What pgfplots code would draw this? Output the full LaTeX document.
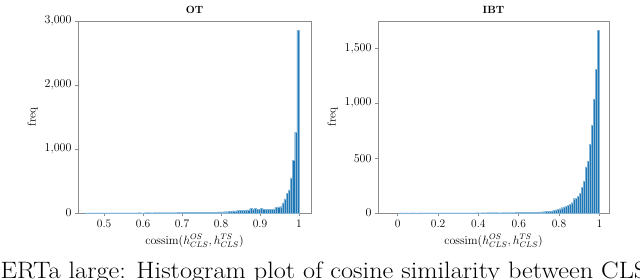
\documentclass[border=0pt]{standalone}
\usepackage{pgfplots}
\pgfplotsset{compat=1.18}
\definecolor{barblue}{HTML}{1F77B4}
\definecolor{framegray}{HTML}{8C8C8C}
\pgfplotsset{
  histstyle/.style={
    scale only axis,
    width=233pt, height=192pt,
    axis line style={framegray, line width=0.8pt},
    tick style={framegray, line width=0.6pt},
    tick align=outside,
    xtick pos=left, ytick pos=left,
    major tick length=3pt,
    ymin=0,
    tick label style={font=\fontsize{11.5}{13}\selectfont},
    label style={font=\fontsize{11.5}{13}\selectfont},
    title style={font=\bfseries\fontsize{10.5}{12}\selectfont, yshift=-2pt},
    xlabel={$\mathrm{cossim}(h^{OS}_{CLS}, h^{TS}_{CLS})$},
    ylabel={freq},
    scaled y ticks=false,
  },
  histbars/.style={ybar interval, fill=barblue, draw=barblue!55!white, line width=0.15pt},
}
\begin{document}
\begin{tikzpicture}[x=1pt,y=1pt]
\path[use as bounding box] (0,0) rectangle (640,279);
\clip (0,0) rectangle (640,279);
\begin{axis}[histstyle, at={(78pt,66pt)}, anchor=south west,
  title={OT},
  xmin=0.433, xmax=1.031, ymax=3000,
  xtick={0.5,0.6,0.7,0.8,0.9,1},
  xticklabels={0.5,0.6,0.7,0.8,0.9,1},
  ytick={0,1000,2000,3000}]
\addplot[histbars] table[row sep=\\] {
x y\\
0.45 1\\ 0.4555 0\\ 0.461 1\\ 0.4665 1\\ 0.472 2\\ 0.4775 1\\ 0.483 1\\ 0.4885 2\\ 0.494 1\\ 0.4995 2\\
0.505 2\\ 0.5105 1\\ 0.516 2\\ 0.5215 2\\ 0.527 2\\ 0.5325 3\\ 0.538 2\\ 0.5435 2\\ 0.549 3\\ 0.5545 2\\
0.56 3\\ 0.5655 3\\ 0.571 2\\ 0.5765 3\\ 0.582 3\\ 0.5875 4\\ 0.593 3\\ 0.5985 3\\ 0.604 4\\ 0.6095 4\\
0.615 4\\ 0.6205 3\\ 0.626 4\\ 0.6315 5\\ 0.637 4\\ 0.6425 5\\ 0.648 5\\ 0.6535 4\\ 0.659 5\\ 0.6645 6\\
0.67 6\\ 0.6755 5\\ 0.681 6\\ 0.6865 7\\ 0.692 6\\ 0.6975 7\\ 0.703 8\\ 0.7085 7\\ 0.714 8\\ 0.7195 9\\
0.725 9\\ 0.7305 8\\ 0.736 10\\ 0.7415 11\\ 0.747 10\\ 0.7525 12\\ 0.758 11\\ 0.7635 13\\ 0.769 12\\ 0.7745 14\\
0.78 14\\ 0.7855 15\\ 0.791 16\\ 0.7965 17\\ 0.802 18\\ 0.8075 20\\ 0.813 22\\ 0.8185 25\\ 0.824 30\\ 0.8295 32\\
0.835 35\\ 0.8405 38\\ 0.846 40\\ 0.8515 45\\ 0.857 45\\ 0.8625 50\\ 0.868 50\\ 0.8735 70\\ 0.879 60\\ 0.8845 70\\
0.89 55\\ 0.8955 60\\ 0.901 75\\ 0.9065 65\\ 0.912 55\\ 0.9175 60\\ 0.923 55\\ 0.9285 60\\ 0.934 65\\ 0.9395 90\\
0.945 95\\ 0.9505 100\\ 0.956 160\\ 0.9615 220\\ 0.967 310\\ 0.9725 360\\ 0.978 550\\ 0.9835 820\\ 0.989 1265\\ 0.9945 2855\\
1.0 0\\
};
\end{axis}
\begin{axis}[histstyle, at={(378pt,66pt)}, anchor=south west,
  width=231pt,
  title={IBT},
  xmin=-0.098, xmax=1.048, ymax=1750,
  xtick={0,0.2,0.4,0.6,0.8,1},
  xticklabels={0,0.2,0.4,0.6,0.8,1},
  ytick={0,500,1000,1500}]
\addplot[histbars] table[row sep=\\] {
x y\\
0.00 0\\ 0.01 1\\ 0.02 0\\ 0.03 1\\ 0.04 1\\ 0.05 0\\ 0.06 1\\ 0.07 1\\ 0.08 1\\ 0.09 0\\
0.10 1\\ 0.11 1\\ 0.12 1\\ 0.13 1\\ 0.14 1\\ 0.15 1\\ 0.16 1\\ 0.17 1\\ 0.18 1\\ 0.19 1\\
0.20 1\\ 0.21 1\\ 0.22 2\\ 0.23 1\\ 0.24 1\\ 0.25 2\\ 0.26 1\\ 0.27 2\\ 0.28 1\\ 0.29 2\\
0.30 1\\ 0.31 2\\ 0.32 2\\ 0.33 1\\ 0.34 2\\ 0.35 2\\ 0.36 2\\ 0.37 2\\ 0.38 2\\ 0.39 3\\
0.40 2\\ 0.41 2\\ 0.42 3\\ 0.43 2\\ 0.44 3\\ 0.45 3\\ 0.46 3\\ 0.47 3\\ 0.48 3\\ 0.49 3\\
0.50 2\\ 0.51 3\\ 0.52 3\\ 0.53 3\\ 0.54 3\\ 0.55 3\\ 0.56 3\\ 0.57 3\\ 0.58 4\\ 0.59 4\\
0.60 4\\ 0.61 4\\ 0.62 5\\ 0.63 5\\ 0.64 6\\ 0.65 6\\ 0.66 7\\ 0.67 8\\ 0.68 8\\ 0.69 9\\
0.70 10\\ 0.71 11\\ 0.72 12\\ 0.73 14\\ 0.74 15\\ 0.75 18\\ 0.76 20\\ 0.77 25\\ 0.78 28\\ 0.79 32\\
0.80 40\\ 0.81 48\\ 0.82 55\\ 0.83 60\\ 0.84 70\\ 0.85 80\\ 0.86 95\\ 0.87 130\\ 0.88 135\\ 0.89 150\\
0.90 180\\ 0.91 235\\ 0.92 290\\ 0.93 420\\ 0.94 473\\ 0.95 627\\ 0.96 800\\ 0.97 1040\\ 0.98 1309\\ 0.99 1666\\
1.00 0\\
};
\end{axis}
\node[anchor=base west, inner sep=0pt, xscale=1.11, font=\fontsize{23.7}{26}\selectfont] at (0.5,1) {ERTa large: Histogram plot of cosine similarity between CLS};
\end{tikzpicture}
\end{document}
